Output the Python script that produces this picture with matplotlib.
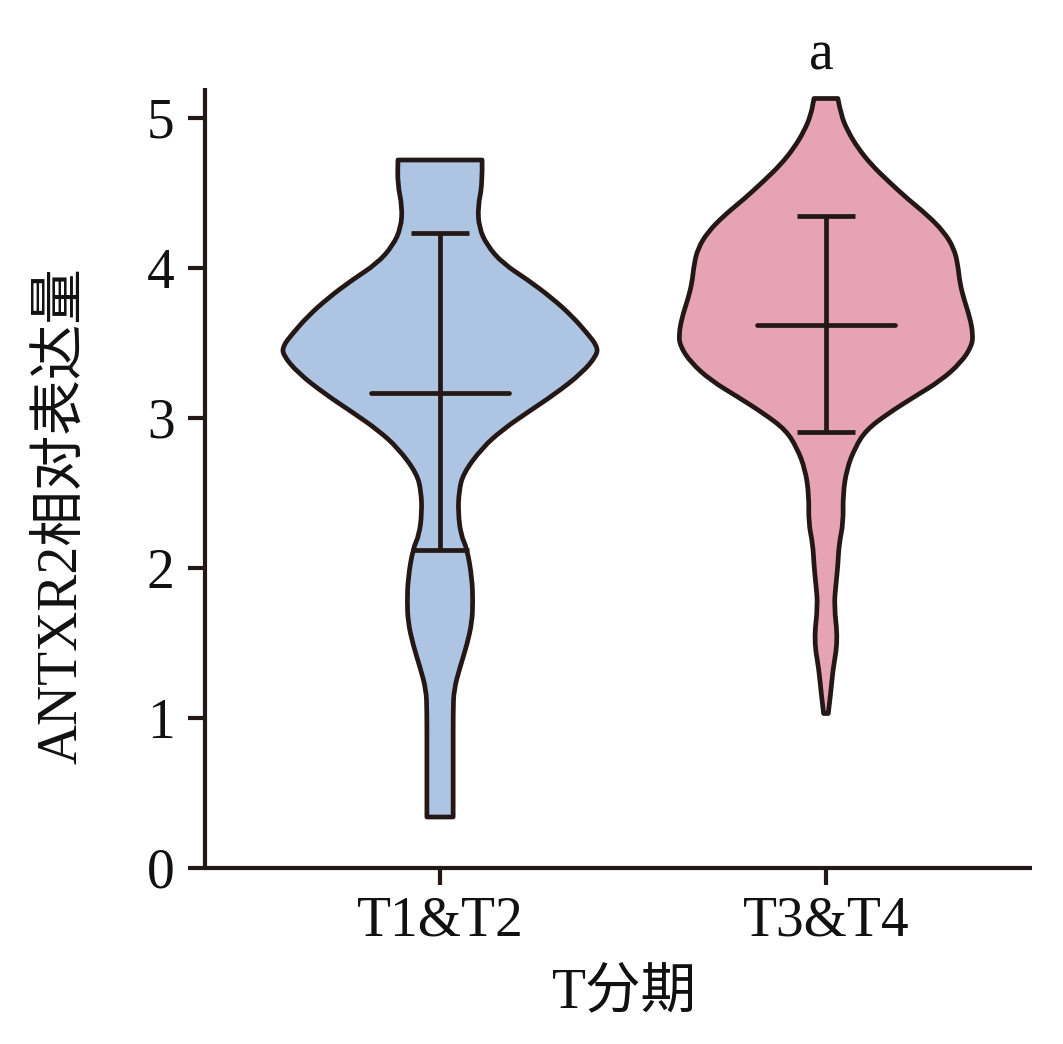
import numpy as np
import matplotlib
matplotlib.use("Agg")
import matplotlib.pyplot as plt
from matplotlib.path import Path
from matplotlib.patches import PathPatch

# ---------------- data ----------------
categories = ["T1&T2", "T3&T4"]

# violin outline of T1&T2: y values and half-widths (axis x units)
t12_y = [4.72, 4.56, 4.41, 4.27, 4.15, 4.03, 3.92, 3.80, 3.68, 3.56, 3.48, 3.42,
         3.30, 3.16, 3.04, 2.92, 2.80, 2.63, 2.51, 2.37, 2.22, 2.13, 1.93, 1.78,
         1.64, 1.49, 1.34, 1.19, 1.05, 0.76, 0.34]
t12_w = [0.109, 0.110, 0.098, 0.101, 0.122, 0.163, 0.228, 0.290, 0.342, 0.383,
         0.407, 0.407, 0.368, 0.298, 0.228, 0.161, 0.109, 0.060, 0.049, 0.047,
         0.054, 0.070, 0.083, 0.085, 0.083, 0.070, 0.052, 0.036, 0.034, 0.034, 0.034]

# violin outline of T3&T4
t34_y = [5.13, 5.02, 4.91, 4.80, 4.69, 4.58, 4.46, 4.35, 4.24, 4.13, 4.02, 3.90,
         3.79, 3.67, 3.56, 3.48, 3.37, 3.25, 3.14, 3.03, 2.92, 2.80, 2.66, 2.49,
         2.30, 2.16, 2.02, 1.89, 1.75, 1.52, 1.32, 1.18, 1.03]
t34_w = [0.031, 0.039, 0.057, 0.083, 0.117, 0.161, 0.212, 0.264, 0.306, 0.332,
         0.342, 0.347, 0.358, 0.373, 0.381, 0.378, 0.350, 0.298, 0.228, 0.161,
         0.104, 0.075, 0.054, 0.044, 0.045, 0.034, 0.031, 0.026, 0.021, 0.031,
         0.018, 0.013, 0.006]

means = [3.17, 3.62]
upper = [4.23, 4.35]
lower = [2.12, 2.91]

y_ticks = [0, 1, 2, 3, 4, 5]
ylabel = "ANTXR2相对表达量"
xlabel = "T分期"
sig_label = "a"

fill_colors = ["#adc5e2", "#e6a3b4"]
edge = "#231815"
LW = 3.4

# ---------------- figure ----------------
fam = ["Liberation Serif", "Noto Sans CJK SC"]
plt.rcParams["font.family"] = fam
plt.rcParams["font.size"] = 40

fig = plt.figure(figsize=(10.63, 10.44), dpi=100)
ax = fig.add_axes([205 / 1063, 1 - 868 / 1044, 827 / 1063, 780 / 1044])


def smooth_side(xs, ys):
    """Quadratic Bezier path through midpoints of the read outline points."""
    verts = [(xs[0], ys[0])]
    codes = []
    for k in range(1, len(xs) - 1):
        mx = (xs[k] + xs[k + 1]) / 2
        my = (ys[k] + ys[k + 1]) / 2
        verts += [(xs[k], ys[k]), (mx, my)]
        codes += [Path.CURVE3, Path.CURVE3]
    verts.append((xs[-1], ys[-1]))
    codes.append(Path.LINETO)
    return verts, codes


profiles = [(t12_y, t12_w), (t34_y, t34_w)]
for i, (yy, ww) in enumerate(profiles):
    yy = np.array(yy)
    ww = np.array(ww)
    rv, rc = smooth_side(i + ww, yy)            # right side, top -> bottom
    lv, lc = smooth_side((i - ww)[::-1], yy[::-1])  # left side, bottom -> top
    verts = rv + [lv[0]] + lv[1:] + [rv[0]]
    codes = [Path.MOVETO] + rc + [Path.LINETO] + lc + [Path.CLOSEPOLY]
    patch = PathPatch(Path(verts, codes), facecolor=fill_colors[i],
                      edgecolor=edge, linewidth=LW, joinstyle="round", zorder=2)
    ax.add_patch(patch)

for i in range(len(categories)):
    ax.plot([i, i], [lower[i], upper[i]], color=edge, lw=LW, zorder=3,
            solid_capstyle="butt")
    for v in (lower[i], upper[i]):
        ax.plot([i - 0.076, i + 0.076], [v, v], color=edge, lw=LW, zorder=3,
                solid_capstyle="butt")
    ax.plot([i - 0.178, i + 0.178], [means[i], means[i]], color=edge, lw=LW,
            zorder=3, solid_capstyle="round")

ax.set_xlim(-0.609, 1.534)
ax.set_ylim(0, 5.2)
ax.set_xticks(range(len(categories)))
ax.set_xticklabels(categories)
ax.set_yticks(y_ticks)
ax.set_yticklabels([str(t) for t in y_ticks])

for s in ("top", "right"):
    ax.spines[s].set_visible(False)
for s in ("left", "bottom"):
    ax.spines[s].set_linewidth(3.0)
    ax.spines[s].set_color(edge)
    ax.spines[s].set_capstyle("butt")

ax.tick_params(axis="both", direction="out", length=12, width=3.0, color=edge,
               labelsize=40, labelcolor="#111111")
ax.tick_params(axis="y", pad=10)
ax.tick_params(axis="x", pad=8)

ax.text(0.987, 5.42, sig_label, ha="center", va="center", fontsize=40,
        clip_on=False, color="#111111")

fig.text(624 / 1063, 1 - 993 / 1044, xlabel, ha="center", va="center",
         fontsize=40, color="#111111", family=fam)
fig.text(62 / 1063, 1 - 516 / 1044, ylabel, ha="center", va="center",
         rotation=90, fontsize=40, color="#111111", family=fam)

fig.savefig("out.png", dpi=100, facecolor="white")
